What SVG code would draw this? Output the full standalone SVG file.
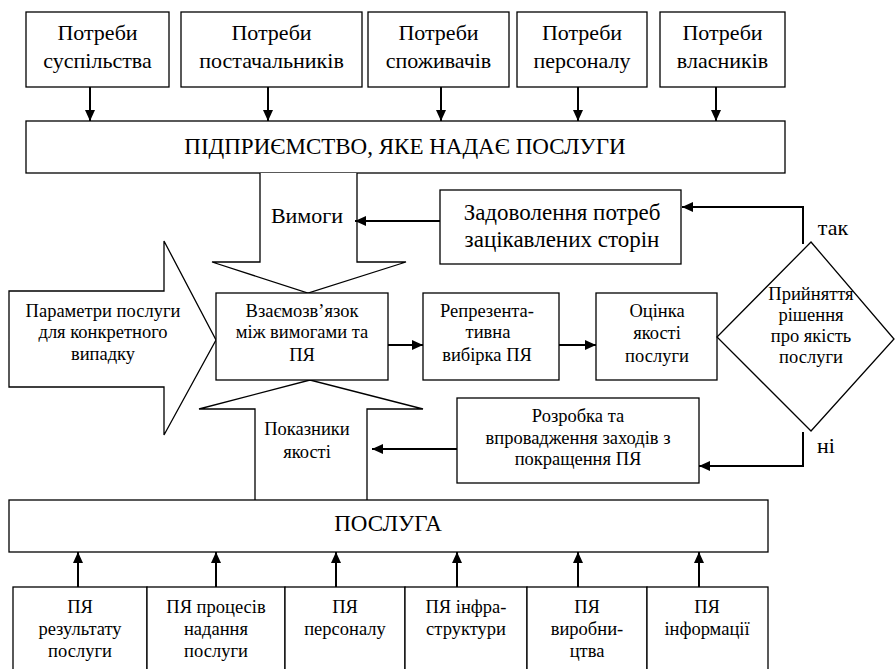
<svg xmlns="http://www.w3.org/2000/svg" width="895" height="669" viewBox="0 0 895 669">
<defs>
<marker id="ah" markerUnits="userSpaceOnUse" markerWidth="12" markerHeight="10" refX="11" refY="5" orient="auto">
<path d="M0,0 L11,5 L0,10 Z" fill="#000"/>
</marker>
<style>
.b{fill:#fff;stroke:#000;stroke-width:1.3}
.t{font-family:"Liberation Serif","Times New Roman",serif;fill:#000;text-anchor:middle}
.f21{font-size:22px}
.f22{font-size:23px}
.f17{font-size:18.5px}
.c{fill:none;stroke:#000;stroke-width:2;marker-end:url(#ah)}
</style>
</defs>
<rect width="895" height="669" fill="#fff"/>

<g id="need1"><rect class="b" x="26" y="12" width="143" height="75"/><text class="t f21" x="97.5" y="40">Потреби</text><text class="t f21" x="97.5" y="68">суспільства</text></g>
<g id="need2"><rect class="b" x="181" y="12" width="181" height="75"/><text class="t f21" x="271.5" y="40">Потреби</text><text class="t f21" x="271.5" y="68">постачальників</text></g>
<g id="need3"><rect class="b" x="368" y="12" width="141" height="75"/><text class="t f21" x="438.5" y="40">Потреби</text><text class="t f21" x="438.5" y="68">споживачів</text></g>
<g id="need4"><rect class="b" x="517" y="12" width="130" height="75"/><text class="t f21" x="582" y="40">Потреби</text><text class="t f21" x="582" y="68">персоналу</text></g>
<g id="need5"><rect class="b" x="660" y="12" width="125" height="75"/><text class="t f21" x="722.5" y="40">Потреби</text><text class="t f21" x="722.5" y="68">власників</text></g>

<g id="enterprise"><rect class="b" x="26" y="121" width="759" height="52"/><text class="t f22" x="405" y="154">ПІДПРИЄМСТВО, ЯКЕ НАДАЄ ПОСЛУГИ</text></g>

<g id="req"><path class="b" d="M260,173 V262 H212 L308,293 L406,262 H357 V173"/><text class="t f21" x="307" y="223">Вимоги</text></g>

<g id="params"><path class="b" d="M9,291 H164 V241 L216,340 L164,435 V387 H9 Z"/><text class="t f17" x="103" y="317">Параметри послуги</text><text class="t f17" x="103" y="338">для конкретного</text><text class="t f17" x="103" y="360">випадку</text></g>

<g id="indicators"><path class="b" d="M255,500 V409 H199 L310,380 L423,409 H367 V500"/><text class="t f17" x="307" y="435">Показники</text><text class="t f17" x="307" y="458">якості</text></g>

<g id="satisfy"><rect class="b" x="440" y="190" width="241" height="74"/><text class="t f22" x="562" y="220">Задоволення потреб</text><text class="t f22" x="562" y="247">зацікавлених сторін</text></g>

<g id="relation"><rect class="b" x="216" y="293" width="172" height="87"/><text class="t f17" x="302" y="317">Взаємозв’язок</text><text class="t f17" x="302" y="338">між вимогами та</text><text class="t f17" x="302" y="361">ПЯ</text></g>

<g id="sample"><rect class="b" x="423" y="293" width="136" height="87"/><text class="t f17" x="487" y="317">Репрезента-</text><text class="t f17" x="488" y="338">тивна</text><text class="t f17" x="487" y="361">вибірка ПЯ</text></g>

<g id="assess"><rect class="b" x="596" y="293" width="121" height="87"/><text class="t f17" x="657" y="317">Оцінка</text><text class="t f17" x="657" y="339">якості</text><text class="t f17" x="657" y="362">послуги</text></g>

<g id="decision"><polygon class="b" points="811,242 894,339 811,431 717,337"/><text class="t f17" x="811" y="300">Прийняття</text><text class="t f17" x="811" y="321">рішення</text><text class="t f17" x="811" y="342">про якість</text><text class="t f17" x="811" y="363">послуги</text></g>

<g id="improve"><rect class="b" x="457" y="398" width="242" height="85"/><text class="t f17" x="578" y="422">Розробка та</text><text class="t f17" x="578" y="444">впровадження заходів з</text><text class="t f17" x="578" y="465">покращення ПЯ</text></g>

<g id="service"><rect class="b" x="9" y="500" width="759" height="52"/><text class="t f22" x="388" y="531">ПОСЛУГА</text></g>

<g id="q1"><rect class="b" x="13" y="587" width="134" height="90"/><text class="t f17" x="80" y="613">ПЯ</text><text class="t f17" x="80" y="635">результату</text><text class="t f17" x="80" y="657">послуги</text></g>
<g id="q2"><rect class="b" x="147" y="587" width="138" height="90"/><text class="t f17" x="216" y="613">ПЯ процесів</text><text class="t f17" x="216" y="635">надання</text><text class="t f17" x="216" y="657">послуги</text></g>
<g id="q3"><rect class="b" x="285" y="587" width="120" height="90"/><text class="t f17" x="345" y="613">ПЯ</text><text class="t f17" x="345" y="635">персоналу</text></g>
<g id="q4"><rect class="b" x="405" y="587" width="122" height="90"/><text class="t f17" x="466" y="613">ПЯ інфра-</text><text class="t f17" x="466" y="635">структури</text></g>
<g id="q5"><rect class="b" x="527" y="587" width="120" height="90"/><text class="t f17" x="587" y="613">ПЯ</text><text class="t f17" x="587" y="635">виробни-</text><text class="t f17" x="587" y="657">цтва</text></g>
<g id="q6"><rect class="b" x="647" y="587" width="121" height="90"/><text class="t f17" x="707" y="613">ПЯ</text><text class="t f17" x="707" y="635">інформації</text></g>

<g id="labels"><text class="t f21" x="833" y="235">так</text><text class="t f21" x="826" y="453">ні</text></g>

<g id="connectors">
<line class="c" x1="90" y1="87" x2="90" y2="121"/>
<line class="c" x1="268" y1="87" x2="268" y2="121"/>
<line class="c" x1="441" y1="87" x2="441" y2="121"/>
<line class="c" x1="578" y1="87" x2="578" y2="121"/>
<line class="c" x1="716" y1="87" x2="716" y2="121"/>
<line class="c" x1="440" y1="221" x2="355" y2="221"/>
<line class="c" x1="388" y1="345" x2="423" y2="345"/>
<line class="c" x1="559" y1="345" x2="596" y2="345"/>
<path class="c" d="M803,244 V207 H682"/>
<path class="c" d="M803,432 V466 H699"/>
<line class="c" x1="457" y1="449" x2="372" y2="449"/>
<line class="c" x1="78" y1="587" x2="78" y2="552"/>
<line class="c" x1="216" y1="587" x2="216" y2="552"/>
<line class="c" x1="336" y1="587" x2="336" y2="552"/>
<line class="c" x1="457" y1="587" x2="457" y2="552"/>
<line class="c" x1="578" y1="587" x2="578" y2="552"/>
<line class="c" x1="699" y1="587" x2="699" y2="552"/>
</g>
</svg>
